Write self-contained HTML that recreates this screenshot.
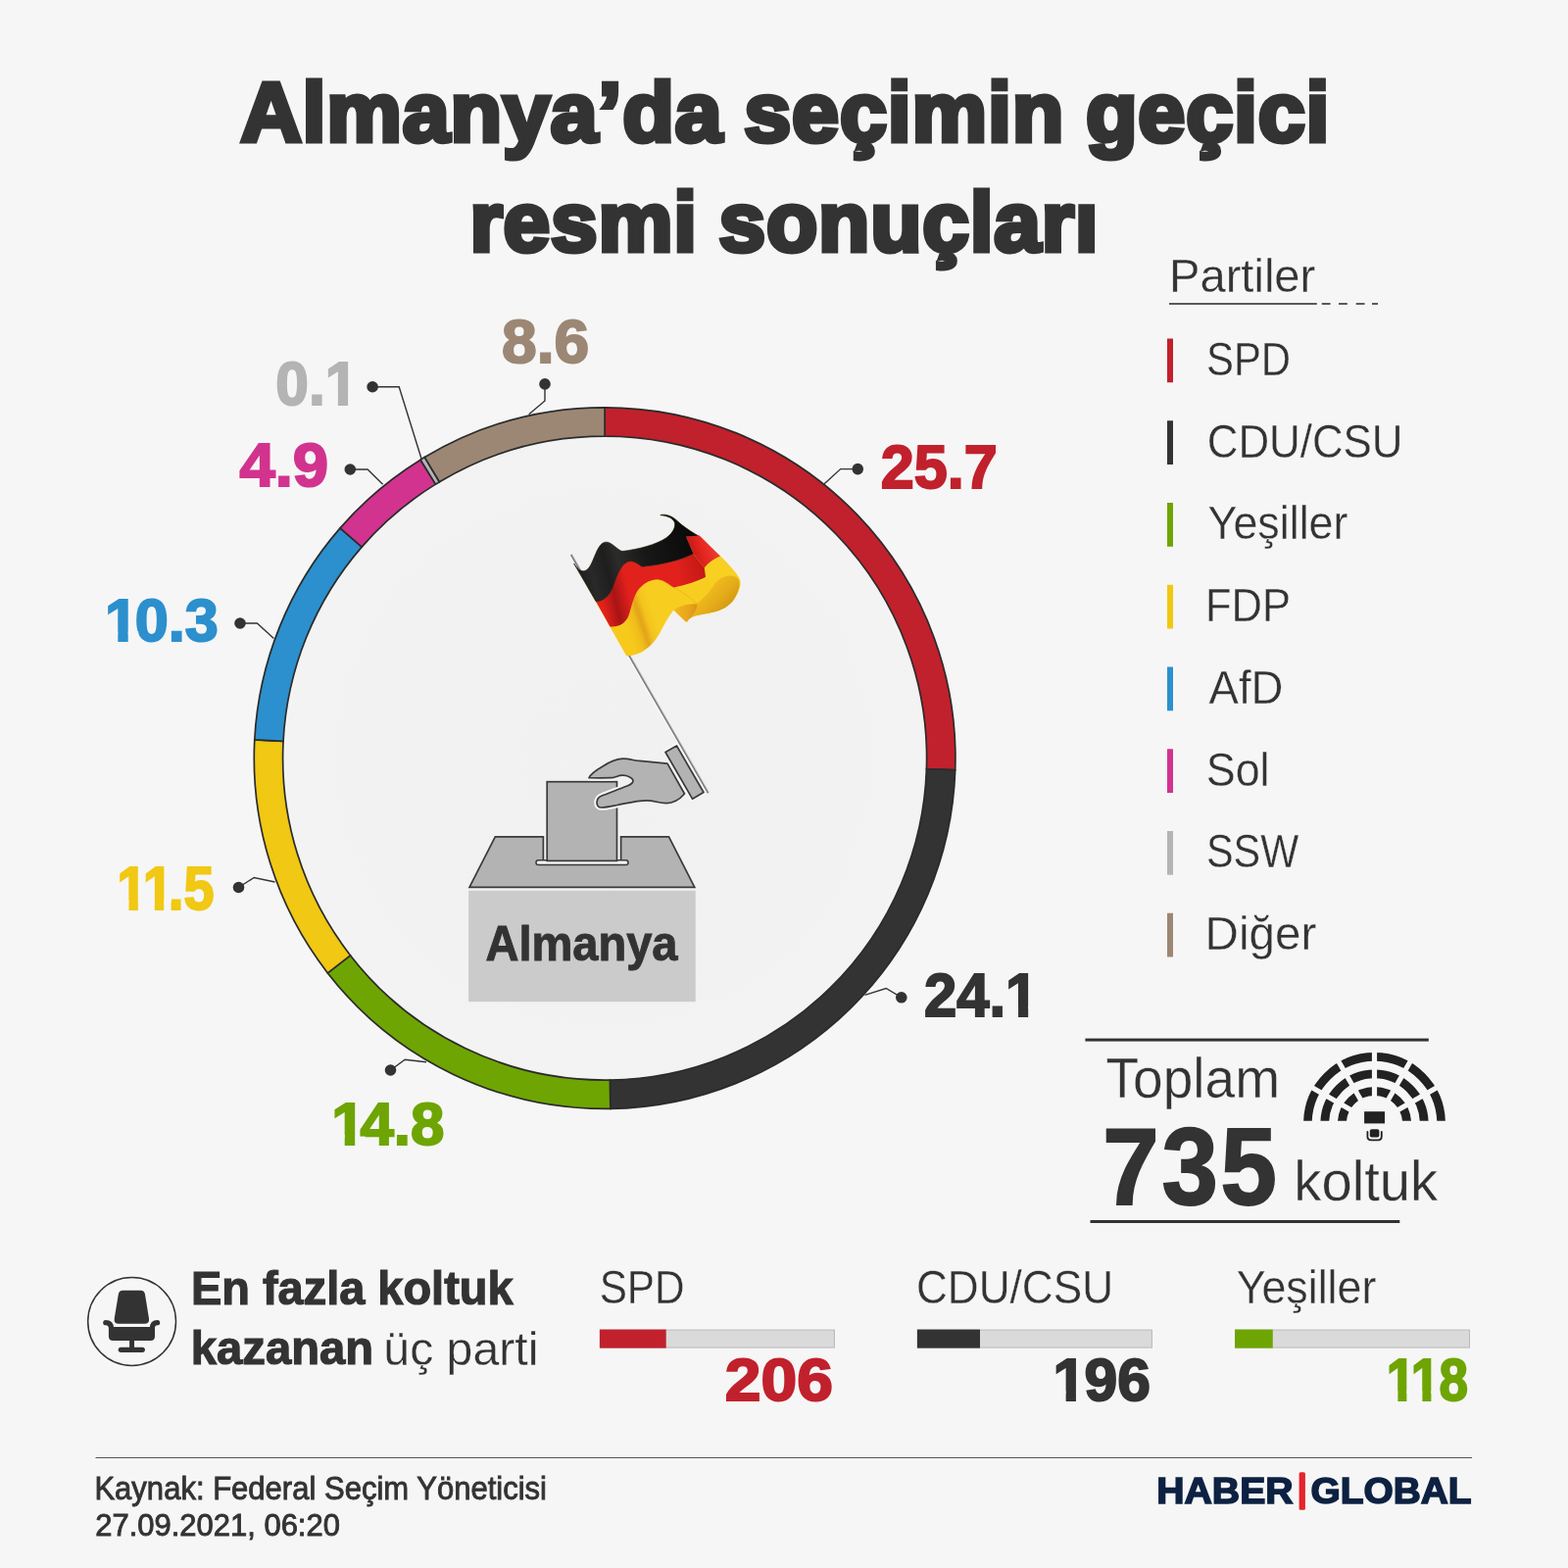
<!DOCTYPE html>
<html lang="tr">
<head>
<meta charset="utf-8">
<title>Almanya’da seçimin geçici resmi sonuçları</title>
<style>
html,body{margin:0;padding:0;background:#f6f6f6;}
body{width:1600px;height:1600px;overflow:hidden;font-family:"Liberation Sans",sans-serif;}
svg{display:block;position:absolute;left:0;top:0;}
text{font-family:"Liberation Sans",sans-serif;white-space:pre;}
</style>
</head>
<body>
<svg width="1600" height="1600" viewBox="0 0 1600 1600">
<rect width="1600" height="1600" fill="#f6f6f6"/>
<defs><radialGradient id="gin" cx="617.1" cy="773.6" r="328" gradientUnits="userSpaceOnUse"><stop offset="0" stop-color="#f1f1f1"/><stop offset="0.8" stop-color="#f2f2f2"/><stop offset="1" stop-color="#f3f3f3"/></radialGradient></defs>
<circle cx="617.1" cy="773.6" r="328.5" fill="url(#gin)"/>
<g stroke="#2b2b2b" stroke-width="1.7" stroke-linejoin="miter">
<path d="M617.10 415.80A357.8 357.8 0 0 1 974.69 785.71L945.41 784.72A328.5 328.5 0 0 0 617.10 445.10Z" fill="#c1212c"/>
<path d="M974.69 785.71A357.8 357.8 0 0 1 622.84 1131.35L622.37 1102.06A328.5 328.5 0 0 0 945.41 784.72Z" fill="#333333"/>
<path d="M622.84 1131.35A357.8 357.8 0 0 1 334.38 992.90L357.53 974.94A328.5 328.5 0 0 0 622.37 1102.06Z" fill="#6ea503"/>
<path d="M334.38 992.90A357.8 357.8 0 0 1 259.79 754.87L289.05 756.41A328.5 328.5 0 0 0 357.53 974.94Z" fill="#f1c813"/>
<path d="M259.79 754.87A357.8 357.8 0 0 1 347.06 538.86L369.18 558.08A328.5 328.5 0 0 0 289.05 756.41Z" fill="#2b90cd"/>
<path d="M347.06 538.86A357.8 357.8 0 0 1 429.09 469.18L444.48 494.11A328.5 328.5 0 0 0 369.18 558.08Z" fill="#d2338f"/>
<path d="M429.09 469.18A357.8 357.8 0 0 1 433.35 466.58L448.40 491.73A328.5 328.5 0 0 0 444.48 494.11Z" fill="#b4b4b4"/>
<path d="M433.35 466.58A357.8 357.8 0 0 1 617.10 415.80L617.10 445.10A328.5 328.5 0 0 0 448.40 491.73Z" fill="#9c8775"/>
</g>
<path d="M556.0 391.9 L556.0 409.0 L539.7 422.8" fill="none" stroke="#333333" stroke-width="1.4"/><circle cx="556" cy="391.9" r="5.8" fill="#333333"/>
<path d="M380.1 394.8 L407.2 394.8 L430.0 468.0" fill="none" stroke="#333333" stroke-width="1.4"/><circle cx="380.1" cy="394.75" r="5.8" fill="#333333"/>
<path d="M357.3 479.0 L375.1 479.0 L390.6 494.2" fill="none" stroke="#333333" stroke-width="1.4"/><circle cx="357.3" cy="479" r="5.8" fill="#333333"/>
<path d="M245.0 636.0 L262.4 636.0 L279.4 651.6" fill="none" stroke="#333333" stroke-width="1.4"/><circle cx="245" cy="636" r="5.8" fill="#333333"/>
<path d="M243.5 905.5 L259.2 895.5 L280.5 900.0" fill="none" stroke="#333333" stroke-width="1.4"/><circle cx="243.5" cy="905.5" r="5.8" fill="#333333"/>
<path d="M398.5 1092.0 L413.2 1081.2 L435.0 1083.8" fill="none" stroke="#333333" stroke-width="1.4"/><circle cx="398.5" cy="1092" r="5.8" fill="#333333"/>
<path d="M875.2 478.6 L857.7 478.6 L841.1 493.8" fill="none" stroke="#333333" stroke-width="1.4"/><circle cx="875.25" cy="478.6" r="5.8" fill="#333333"/>
<path d="M919.8 1017.8 L904.2 1008.5 L882.5 1015.3" fill="none" stroke="#333333" stroke-width="1.4"/><circle cx="919.8" cy="1017.8" r="5.8" fill="#333333"/>
<rect x="1193" y="309.2" width="150.8" height="1.6" fill="#333333"/>
<rect x="1348.75" y="309.2" width="8.8" height="1.6" fill="#333333"/>
<rect x="1366" y="309.2" width="8.8" height="1.6" fill="#333333"/>
<rect x="1383.75" y="309.2" width="8.8" height="1.6" fill="#333333"/>
<rect x="1400" y="309.2" width="6" height="1.6" fill="#333333"/>
<rect x="1191" y="345.50" width="6" height="44.75" fill="#c1212c"/>
<rect x="1191" y="429.25" width="6" height="44.75" fill="#333333"/>
<rect x="1191" y="513.00" width="6" height="44.75" fill="#6ea503"/>
<rect x="1191" y="596.75" width="6" height="44.75" fill="#f1c813"/>
<rect x="1191" y="680.50" width="6" height="44.75" fill="#2b90cd"/>
<rect x="1191" y="764.25" width="6" height="44.75" fill="#d2338f"/>
<rect x="1191" y="848.00" width="6" height="44.75" fill="#b4b4b4"/>
<rect x="1191" y="931.75" width="6" height="44.75" fill="#9c8775"/>
<rect x="1107.4" y="1059.6" width="350.4" height="3" fill="#333333"/>
<rect x="1112.5" y="1245" width="315.8" height="3" fill="#333333"/>
<rect x="612.4" y="1357.1" width="239" height="18" fill="#dadada" stroke="#b9b9b9" stroke-width="1"/>
<rect x="611.9" y="1356.6" width="67.8" height="19" fill="#c1212c"/>
<rect x="936.4" y="1357.1" width="239" height="18" fill="#dadada" stroke="#b9b9b9" stroke-width="1"/>
<rect x="935.9" y="1356.6" width="64.1" height="19" fill="#333333"/>
<rect x="1260.5" y="1357.1" width="239" height="18" fill="#dadada" stroke="#b9b9b9" stroke-width="1"/>
<rect x="1260" y="1356.6" width="38.75" height="19" fill="#6ea503"/>
<rect x="97.5" y="1487" width="1404.5" height="1" fill="#555555"/>
<rect x="1325.6" y="1502.2" width="6.3" height="38.5" rx="1.5" fill="#e5252c"/>
<!-- ballot box -->
<defs>
<clipPath id="paperclip"><rect x="555.5" y="795.5" width="76.8" height="85"/></clipPath>
</defs>
<g id="ballot">
<rect x="478.1" y="908.8" width="231.6" height="113.4" fill="#cbcbcb"/>
<path d="M505.3 853.8H682.5L708.8 905.4H479Z" fill="#b3b3b3" stroke="#3a3a3a" stroke-width="1.7" stroke-linejoin="miter"/>
<rect x="554.4" y="850" width="79.2" height="30" fill="#f3f3f3"/>
<path d="M554.4 853V878M633.6 853V878" stroke="#3a3a3a" stroke-width="1.7" fill="none"/>
<rect x="547" y="877.8" width="94" height="4.7" rx="2.3" fill="#f3f3f3" stroke="#3a3a3a" stroke-width="1.5"/>
<rect x="558.2" y="797.7" width="71.3" height="80.7" fill="#b3b3b3" stroke="#3a3a3a" stroke-width="1.7"/>
</g>
<!-- flag pole -->
<g id="pole">
<line x1="581.47" y1="566.65" x2="721.47" y2="809.95" stroke="#fcfcfc" stroke-width="1.5" stroke-linecap="butt"/>
<line x1="583.47" y1="565.50" x2="723.47" y2="808.80" stroke="#cfcfcf" stroke-width="1.2" stroke-linecap="butt"/>
<line x1="582.60" y1="566.00" x2="722.60" y2="809.30" stroke="#7f7f7f" stroke-width="1.6" stroke-linecap="butt"/>
</g>
<!-- hand -->
<g id="hand" stroke-linejoin="round">
<path d="M679 767.5L690.5 761L718 808.5L706.5 815.2Z" fill="none" stroke="#f8f8f8" stroke-width="5"/>
<path d="M679 767.5L690.5 761L718 808.5L706.5 815.2Z" fill="#b3b3b3" stroke="#3a3a3a" stroke-width="1.7"/>
<path clip-path="url(#paperclip)" d="M601 793.7C603 789.5 609 785.5 615 782C622 777.5 628 774.3 636 774.2C641 774.2 646 775.6 650 776.2L681 779.2L698.5 810C695 814 688 819.5 680 819.7C673 819.7 667 816.8 660 816.8C650 816.8 640 819.5 630 821.5C624 822.7 619 824 613.5 824C610.5 824 609 821.5 609 819C609 815.5 611 813.2 614 812C620 809.5 632 805.2 640 802C644 800.4 646.2 799 646 796.5C645.5 793.5 640 791 635 791.2C631 791.3 629 792.8 626 793.4C620 794 610 793.8 601 793.7Z" fill="#f6f6f6" stroke="#f6f6f6" stroke-width="5.6"/>
<path d="M601 793.7C603 789.5 609 785.5 615 782C622 777.5 628 774.3 636 774.2C641 774.2 646 775.6 650 776.2L681 779.2L698.5 810C695 814 688 819.5 680 819.7C673 819.7 667 816.8 660 816.8C650 816.8 640 819.5 630 821.5C624 822.7 619 824 613.5 824C610.5 824 609 821.5 609 819C609 815.5 611 813.2 614 812C620 809.5 632 805.2 640 802C644 800.4 646.2 799 646 796.5C645.5 793.5 640 791 635 791.2C631 791.3 629 792.8 626 793.4C620 794 610 793.8 601 793.7Z" fill="#b3b3b3" stroke="#3a3a3a" stroke-width="1.7"/>
</g>
<!-- flag -->
<defs>
<linearGradient id="fgY" gradientUnits="userSpaceOnUse" x1="551" y1="1003" x2="779" y2="927">
<stop offset="0" stop-color="#f6c91b"/><stop offset="0.3" stop-color="#f0bd1b"/><stop offset="0.5" stop-color="#e2a41a"/><stop offset="0.72" stop-color="#f4c41c"/><stop offset="1" stop-color="#f7ce20"/>
</linearGradient>
<linearGradient id="fgR" gradientUnits="userSpaceOnUse" x1="300" y1="800" x2="1200" y2="600">
<stop offset="0" stop-color="#e5221c"/><stop offset="0.06" stop-color="#df201b"/><stop offset="0.17" stop-color="#a81414"/><stop offset="0.3" stop-color="#e3211c"/><stop offset="0.75" stop-color="#e3211c"/><stop offset="1" stop-color="#c21816"/>
</linearGradient>
<linearGradient id="fgB" gradientUnits="userSpaceOnUse" x1="150" y1="600" x2="1100" y2="350">
<stop offset="0" stop-color="#1c1c1c"/><stop offset="0.12" stop-color="#2a2929"/><stop offset="0.25" stop-color="#1e1e1e"/><stop offset="0.36" stop-color="#2c2b2b"/><stop offset="0.6" stop-color="#171717"/><stop offset="1" stop-color="#0a0a0a"/>
</linearGradient>
<linearGradient id="fgC" gradientUnits="userSpaceOnUse" x1="1250" y1="650" x2="1450" y2="850">
<stop offset="0" stop-color="#f1c01e"/><stop offset="0.5" stop-color="#e6ad1a"/><stop offset="1" stop-color="#cf9614"/>
</linearGradient>
<linearGradient id="fgK" gradientUnits="userSpaceOnUse" x1="950" y1="880" x2="1130" y2="900">
<stop offset="0" stop-color="#f0b91c"/><stop offset="0.6" stop-color="#e9a51c"/><stop offset="1" stop-color="#d99318"/>
</linearGradient>
<linearGradient id="fgFR" gradientUnits="userSpaceOnUse" x1="1080" y1="420" x2="1260" y2="360">
<stop offset="0" stop-color="#c41a18"/><stop offset="0.45" stop-color="#e4251f"/><stop offset="1" stop-color="#ea3a30"/>
</linearGradient>
</defs>
<g transform="translate(570 510) scale(0.125)">
<path d="M125,520 C150,560 180,590 215,580 C290,555 300,350 385,345 C440,345 470,405 520,420 C650,405 800,365 880,310 C935,270 960,215 945,180 C925,140 870,128 830,125 C890,110 940,140 1000,200 C1050,240 1100,270 1150,300 L1320,460 C1380,520 1450,590 1480,650 C1495,690 1470,760 1430,815 C1390,870 1330,900 1270,915 C1200,935 1120,935 1075,965 C1060,975 1050,990 1045,1000 C1010,970 970,930 940,900 C900,950 860,1020 830,1080 C800,1140 750,1200 690,1235 C640,1262 590,1272 555,1275 Z" fill="url(#fgY)"/>
<path d="M1250,720 C1270,680 1310,640 1370,620 C1420,605 1465,625 1475,670 C1480,720 1460,770 1430,815 C1390,870 1330,900 1270,915 C1200,935 1120,935 1075,965 C1060,975 1050,990 1045,1000 C1080,960 1120,900 1130,850 C1180,800 1220,770 1250,720 Z" fill="url(#fgC)"/>
<path d="M940,900 C980,870 1040,845 1130,850 C1135,880 1110,930 1075,965 C1060,975 1050,990 1045,1000 C1010,970 970,930 940,900 Z" fill="url(#fgK)"/>
<path d="M1190,555 C1220,515 1270,480 1320,460 C1380,520 1450,590 1480,650 C1440,610 1370,610 1310,650 C1280,670 1260,700 1250,725 Z" fill="#f7d022"/>
<path id="crease" d="M810,652 C870,660 900,700 940,717 C1010,752 1080,800 1130,850" fill="none" stroke="#d89a12" stroke-opacity="0.45" stroke-width="7"/>
<path d="M305,830 C380,825 425,770 450,690 C480,600 520,505 585,500 C620,500 650,525 680,545 C850,530 1000,490 1100,440 L1190,555 L1200,630 C1130,665 1030,700 940,715 C900,690 860,655 810,650 C740,650 680,690 640,750 C600,820 590,900 570,950 C545,1010 490,1040 420,1035 Z" fill="url(#fgR)"/>
<path d="M125,520 C150,560 180,590 215,580 C290,555 300,350 385,345 C440,345 470,405 520,420 C650,405 800,365 880,310 C935,270 960,215 945,180 C925,140 870,128 830,125 C890,110 940,140 1000,200 C1050,240 1100,270 1150,300 L1040,300 L1100,440 C1000,490 850,530 680,545 C650,525 620,500 585,500 C520,505 480,600 450,690 C425,770 380,825 305,830 Z" fill="url(#fgB)" stroke="#151515" stroke-width="5" stroke-linejoin="round"/>
<path d="M1040,300 L1150,292 L1320,460 C1270,480 1220,515 1190,555 L1100,440 Z" fill="url(#fgFR)"/>

</g>
<!-- chair icon -->
<g id="chair">
<circle cx="134.6" cy="1348.5" r="44.9" fill="none" stroke="#333" stroke-width="1.5"/>
<path d="M125.4 1316.8H143.4Q147.4 1316.8 148 1320.8L152 1345.5Q152.7 1350.8 147.5 1350.8H121.2Q116 1350.8 116.7 1345.5L120.8 1320.8Q121.4 1316.8 125.4 1316.8Z" fill="#333"/>
<path d="M110.9 1354.1H158V1363.5Q158 1368 153.5 1368H115.4Q110.9 1368 110.9 1363.5Z" fill="#333"/>
<path d="M107.8 1349.7Q113.6 1349.7 113.6 1356V1360" fill="none" stroke="#333" stroke-width="5.2" stroke-linecap="round"/>
<path d="M160.6 1349.7Q155.3 1349.7 155.3 1356V1360" fill="none" stroke="#333" stroke-width="5.2" stroke-linecap="round"/>
<rect x="132.1" y="1366" width="4.9" height="10" fill="#333"/>
<rect x="120.7" y="1374.7" width="27.2" height="5.2" rx="2.6" fill="#333"/>
</g>
<!-- parliament icon -->
<clipPath id="pclip"><rect x="1320" y="1060" width="170" height="83.8"/></clipPath>
<g id="parl">
<g clip-path="url(#pclip)" fill="none" stroke="#222">
<circle cx="1402.5" cy="1146.5" r="68.10" stroke-width="8.60"/>
<circle cx="1402.5" cy="1146.5" r="50.70" stroke-width="8.80"/>
<circle cx="1402.5" cy="1146.5" r="33.10" stroke-width="9.00"/>
</g>
<g stroke="#f6f6f6" stroke-width="5.2">
<line x1="1385.18" y1="1136.50" x2="1333.22" y2="1106.50"/>
<line x1="1392.50" y1="1129.18" x2="1362.50" y2="1077.22"/>
<line x1="1402.50" y1="1126.50" x2="1402.50" y2="1066.50"/>
<line x1="1412.50" y1="1129.18" x2="1442.50" y2="1077.22"/>
<line x1="1419.82" y1="1136.50" x2="1471.78" y2="1106.50"/>
</g>
<rect x="1392.1" y="1134.2" width="20.9" height="12.2" fill="#222"/>
<rect x="1397.8" y="1152.2" width="9.6" height="8.4" rx="1.8" fill="#222"/>
<path d="M1395.4 1155V1159.6Q1395.4 1163.4 1399.2 1163.4H1406Q1409.8 1163.4 1409.8 1159.6V1155" fill="none" stroke="#222" stroke-width="1.8" stroke-linecap="round"/>
</g>

<text transform="translate(511.98 370.40) scale(1.0188 1)" font-size="63.0" font-weight="bold" fill="#9c8775" stroke="#9c8775" stroke-width="2.0" stroke-linejoin="miter" stroke-miterlimit="2.5">8.6</text>
<g transform="translate(281.37 412.90) scale(0.9634 1)"><text font-size="62.71" font-weight="bold" fill="#b4b4b4" style="font-kerning:none" stroke="#b4b4b4" stroke-width="2.0" stroke-linejoin="miter" stroke-miterlimit="2.5">0.1</text><rect x="53.25" y="-9.80" width="12.69" height="12.40" fill="#f6f6f6"/><rect x="76.54" y="-9.80" width="10.79" height="12.40" fill="#f6f6f6"/></g>
<text transform="translate(244.40 495.80) scale(1.0506 1)" font-size="62.14" font-weight="bold" fill="#d2338f" stroke="#d2338f" stroke-width="2.0" stroke-linejoin="miter" stroke-miterlimit="2.5">4.9</text>
<g transform="translate(107.01 654.00) scale(0.9964 1)"><text font-size="61.43" font-weight="bold" fill="#2b90cd" style="font-kerning:none" dx="0 -3.24 0 0" stroke="#2b90cd" stroke-width="2.0" stroke-linejoin="miter" stroke-miterlimit="2.5">10.3</text><rect x="0.87" y="-9.67" width="12.47" height="12.27" fill="#f6f6f6"/><rect x="23.77" y="-9.67" width="10.59" height="12.27" fill="#f6f6f6"/></g>
<g transform="translate(119.36 928.20) scale(0.8807 1)"><text font-size="63.33" font-weight="bold" fill="#f1c813" style="font-kerning:none" dx="0 -5.38 -5.38 0" stroke="#f1c813" stroke-width="2.0" stroke-linejoin="miter" stroke-miterlimit="2.5">11.5</text><rect x="0.99" y="-9.86" width="12.79" height="12.46" fill="#f6f6f6"/><rect x="24.47" y="-9.86" width="10.89" height="12.46" fill="#f6f6f6"/><rect x="30.83" y="-9.86" width="12.79" height="12.46" fill="#f6f6f6"/><rect x="54.31" y="-9.86" width="8.42" height="12.46" fill="#f6f6f6"/></g>
<g transform="translate(338.26 1167.70) scale(0.9978 1)"><text font-size="62.0" font-weight="bold" fill="#6ea503" style="font-kerning:none" dx="0 -5.27 0 0" stroke="#6ea503" stroke-width="2.0" stroke-linejoin="miter" stroke-miterlimit="2.5">14.8</text><rect x="0.91" y="-9.73" width="12.57" height="12.33" fill="#f6f6f6"/><rect x="23.98" y="-8.13" width="10.68" height="10.73" fill="#f6f6f6"/></g>
<text transform="translate(898.82 497.80) scale(0.9814 1)" font-size="62.29" font-weight="bold" fill="#c1212c" stroke="#c1212c" stroke-width="2.0" stroke-linejoin="miter" stroke-miterlimit="2.5">25.7</text>
<g transform="translate(942.94 1036.60) scale(0.9599 1)"><text font-size="62.29" font-weight="bold" fill="#333333" style="font-kerning:none" stroke="#333333" stroke-width="2.0" stroke-linejoin="miter" stroke-miterlimit="2.5">24.1</text><rect x="87.52" y="-9.76" width="12.61" height="12.36" fill="#f6f6f6"/><rect x="110.68" y="-9.76" width="10.72" height="12.36" fill="#f6f6f6"/></g>
<text transform="translate(245.50 143.80) scale(1.0073 1)" font-size="85.62" font-weight="bold" fill="#333333" letter-spacing="0.8" word-spacing="-3" stroke="#333333" stroke-width="5" stroke-linejoin="miter" stroke-miterlimit="2.5">Almanya’da seçimin geçici</text>
<text transform="translate(479.50 255.50) scale(1.0000 1)" font-size="85.62" font-weight="bold" fill="#333333" letter-spacing="0.8" word-spacing="-3" stroke="#333333" stroke-width="5" stroke-linejoin="miter" stroke-miterlimit="2.5">resmi sonuçları</text>
<text transform="translate(1193.00 298.18) scale(0.9812 1)" font-size="48.04" font-weight="normal" fill="#333333" stroke="#f6f6f6" stroke-width="0.35">Partiler</text>
<text transform="translate(1230.96 382.78) scale(0.8617 1)" font-size="48.62" font-weight="normal" fill="#333333" stroke="#f6f6f6" stroke-width="0.35">SPD</text>
<text transform="translate(1231.74 466.53) scale(0.9017 1)" font-size="48.62" font-weight="normal" fill="#333333" stroke="#f6f6f6" stroke-width="0.35">CDU/CSU</text>
<text transform="translate(1232.62 550.27) scale(0.9217 1)" font-size="48.62" font-weight="normal" fill="#333333" stroke="#f6f6f6" stroke-width="0.35">Yeşiller</text>
<text transform="translate(1229.96 634.02) scale(0.8958 1)" font-size="48.62" font-weight="normal" fill="#333333" stroke="#f6f6f6" stroke-width="0.35">FDP</text>
<text transform="translate(1233.54 717.77) scale(0.9371 1)" font-size="48.62" font-weight="normal" fill="#333333" stroke="#f6f6f6" stroke-width="0.35">AfD</text>
<text transform="translate(1230.77 801.52) scale(0.9222 1)" font-size="48.62" font-weight="normal" fill="#333333" stroke="#f6f6f6" stroke-width="0.35">Sol</text>
<text transform="translate(1231.00 885.27) scale(0.8504 1)" font-size="48.62" font-weight="normal" fill="#333333" stroke="#f6f6f6" stroke-width="0.35">SSW</text>
<text transform="translate(1229.62 969.02) scale(0.9779 1)" font-size="48.62" font-weight="normal" fill="#333333" stroke="#f6f6f6" stroke-width="0.35">Diğer</text>
<text transform="translate(495.53 979.50) scale(0.9378 1)" font-size="50.14" font-weight="bold" fill="#333333" stroke="#333333" stroke-width="1.0" stroke-linejoin="miter" stroke-miterlimit="2.5">Almanya</text>
<text transform="translate(1128.57 1119.58) scale(0.9602 1)" font-size="57.32" font-weight="normal" fill="#333333" stroke="#f6f6f6" stroke-width="0.35">Toplam</text>
<text transform="translate(1125.27 1229.20) scale(0.9319 1)" font-size="110.71" font-weight="bold" fill="#333333" letter-spacing="3" stroke="#333333" stroke-width="2" stroke-linejoin="miter" stroke-miterlimit="2.5">735</text>
<text transform="translate(1320.35 1224.97) scale(0.9947 1)" font-size="56.51" font-weight="normal" fill="#333333" stroke="#f6f6f6" stroke-width="0.35">koltuk</text>
<text transform="translate(194.88 1330.60) scale(0.9672 1)" font-size="48.55" font-weight="bold" fill="#333333" stroke="#333333" stroke-width="1.2" stroke-linejoin="miter" stroke-miterlimit="2.5">En fazla koltuk</text>
<text transform="translate(194.82 1392.10) scale(0.9902 1)" font-size="47.67" font-weight="bold" fill="#333333" stroke="#333333" stroke-width="1.2" stroke-linejoin="miter" stroke-miterlimit="2.5">kazanan</text>
<text transform="translate(391.34 1392.97) scale(0.9951 1)" font-size="48.42" font-weight="normal" fill="#333333" stroke="#f6f6f6" stroke-width="0.35">üç parti</text>
<text transform="translate(611.65 1330.17) scale(0.8648 1)" font-size="48.91" font-weight="normal" fill="#333333" stroke="#f6f6f6" stroke-width="0.35">SPD</text>
<text transform="translate(739.81 1429.00) scale(1.0894 1)" font-size="60.57" font-weight="bold" fill="#c1212c" style="font-kerning:none" stroke="#c1212c" stroke-width="2" stroke-linejoin="miter" stroke-miterlimit="2.5">206</text>
<text transform="translate(934.93 1330.17) scale(0.9029 1)" font-size="48.91" font-weight="normal" fill="#333333" stroke="#f6f6f6" stroke-width="0.35">CDU/CSU</text>
<g transform="translate(1074.50 1429.00) scale(1.0000 1)"><text font-size="60.57" font-weight="bold" fill="#333333" style="font-kerning:none" dx="0 -1.63 0" stroke="#333333" stroke-width="2" stroke-linejoin="miter" stroke-miterlimit="2.5">196</text><rect x="0.82" y="-9.58" width="12.32" height="12.18" fill="#f6f6f6"/><rect x="23.45" y="-9.58" width="10.45" height="12.18" fill="#f6f6f6"/></g>
<text transform="translate(1261.72 1330.17) scale(0.9151 1)" font-size="48.91" font-weight="normal" fill="#333333" stroke="#f6f6f6" stroke-width="0.35">Yeşiller</text>
<g transform="translate(1414.87 1429.00) scale(0.8758 1)"><text font-size="60.57" font-weight="bold" fill="#6ea503" style="font-kerning:none" dx="0 -5.15 -0.92" stroke="#6ea503" stroke-width="2" stroke-linejoin="miter" stroke-miterlimit="2.5">118</text><rect x="0.82" y="-9.58" width="12.32" height="12.18" fill="#f6f6f6"/><rect x="23.45" y="-9.58" width="10.45" height="12.18" fill="#f6f6f6"/><rect x="29.35" y="-9.58" width="12.32" height="12.18" fill="#f6f6f6"/><rect x="51.98" y="-9.58" width="10.45" height="12.18" fill="#f6f6f6"/></g>
<text transform="translate(96.41 1529.85) scale(0.9392 1)" font-size="33.04" font-weight="normal" fill="#333333" stroke="#333333" stroke-width="0.9" stroke-linejoin="miter" stroke-miterlimit="2.5">Kaynak: Federal Seçim Yöneticisi</text>
<text transform="translate(97.29 1567.25) scale(0.9767 1)" font-size="31.71" font-weight="normal" fill="#333333" stroke="#333333" stroke-width="0.9" stroke-linejoin="miter" stroke-miterlimit="2.5">27.09.2021, 06:20</text>
<text transform="translate(1180.15 1533.85) scale(1.0784 1)" font-size="36.38" font-weight="bold" fill="#0d2142" stroke="#0d2142" stroke-width="1.5" stroke-linejoin="miter" stroke-miterlimit="2.5">HABER</text>
<text transform="translate(1337.47 1533.85) scale(1.0675 1)" font-size="36.43" font-weight="bold" fill="#0d2142" stroke="#0d2142" stroke-width="1.5" stroke-linejoin="miter" stroke-miterlimit="2.5">GLOBAL</text>
</svg>
</body>
</html>
